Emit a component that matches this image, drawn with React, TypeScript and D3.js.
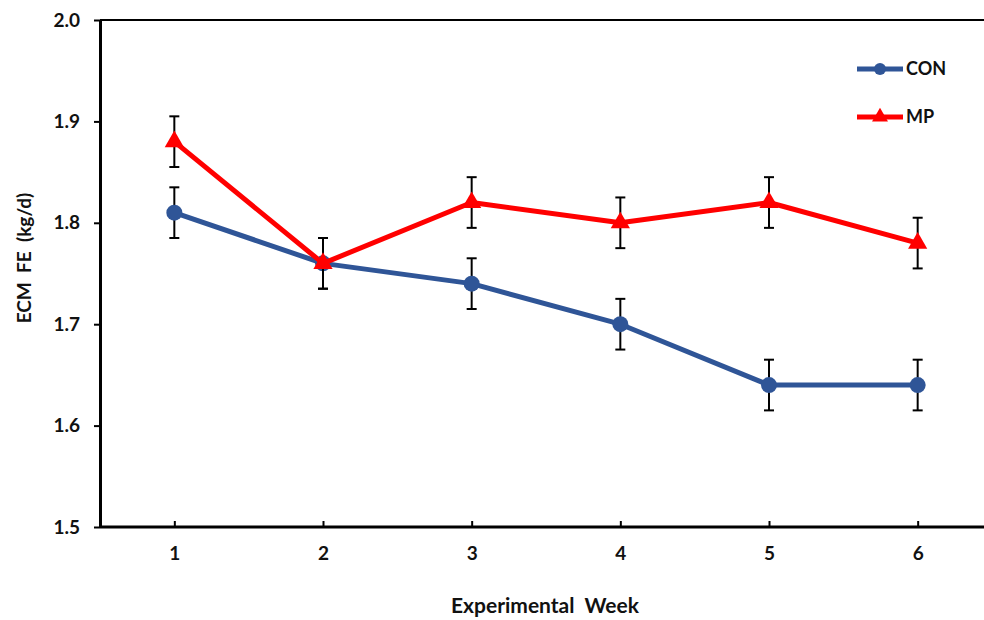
import React, { useEffect, useRef } from "react";
import * as d3 from "d3";

const weeks = ["1", "2", "3", "4", "5", "6"];
const conValues = [1.81, 1.76, 1.74, 1.7, 1.64, 1.64];
const conErrors = [0.025, 0.025, 0.025, 0.025, 0.025, 0.025];
const mpValues = [1.88, 1.76, 1.82, 1.8, 1.82, 1.78];
const mpErrors = [0.025, 0.025, 0.025, 0.025, 0.025, 0.025];
const yTicks = [1.5, 1.6, 1.7, 1.8, 1.9, 2.0];
const seriesNames = ["CON", "MP"];

const App = () => {
    const svgRef = useRef(null);
    const width = 984;
    const height = 620;

    useEffect(() => {
        const svg = d3.select(svgRef.current);
        svg.selectAll("*").remove();

        const font = "Lato, 'Open Sans', sans-serif";
        const left = 100, right = 992, top = 20, bottom = 527;

        const x = d3.scalePoint().domain(weeks).range([left, right]).padding(0.5);
        const y = d3.scaleLinear().domain([1.5, 2.0]).range([bottom, top]);

        const color = d3.scaleOrdinal().domain(seriesNames).range(["#2f5597", "#ff0000"]);

        // top border line
        svg.append("line")
            .attr("x1", left).attr("x2", width)
            .attr("y1", top).attr("y2", top)
            .attr("stroke", "#000").attr("stroke-width", 2);

        // y axis
        const yAxis = svg.append("g")
            .attr("transform", `translate(${left},0)`)
            .call(d3.axisLeft(y).tickValues(yTicks).tickSize(6).tickFormat(d3.format(".1f")).tickSizeOuter(0));
        yAxis.select(".domain").attr("stroke", "#000").attr("stroke-width", 3);
        yAxis.selectAll(".tick line").attr("stroke-width", 2);
        yAxis.selectAll(".tick text")
            .attr("x", -20)
            .attr("font-family", font).attr("font-weight", "bold")
            .attr("font-size", 19).attr("fill", "#111");

        // x axis
        const xAxis = svg.append("g")
            .attr("transform", `translate(0,${bottom})`)
            .call(d3.axisBottom(x).tickSize(-6).tickSizeOuter(0));
        xAxis.select(".domain").attr("d", `M${left},0H${width}`).attr("stroke", "#000").attr("stroke-width", 3);
        xAxis.selectAll(".tick line").attr("stroke-width", 2);
        xAxis.selectAll(".tick text")
            .attr("y", 20)
            .attr("font-family", font).attr("font-weight", "bold")
            .attr("font-size", 19).attr("fill", "#111");

        // axis titles
        svg.append("text")
            .attr("transform", `translate(31,258) rotate(-90)`)
            .attr("text-anchor", "middle")
            .attr("font-family", font).attr("font-weight", "bold")
            .attr("font-size", 19).attr("fill", "#111")
            .attr("xml:space", "preserve")
            .text("ECM  FE  (kg/d)");

        svg.append("text")
            .attr("x", 545).attr("y", 613)
            .attr("text-anchor", "middle")
            .attr("font-family", font).attr("font-weight", "bold")
            .attr("font-size", 21).attr("fill", "#111")
            .attr("xml:space", "preserve")
            .text("Experimental  Week");

        const series = [
            { name: "CON", values: conValues, errors: conErrors },
            { name: "MP", values: mpValues, errors: mpErrors },
        ];

        const line = d3.line()
            .x((d) => x(d.week))
            .y((d) => y(d.value));

        const triangle = d3.symbol().type(d3.symbolTriangle).size(160);

        series.forEach((s) => {
            const pts = weeks.map((w, i) => ({ week: w, value: s.values[i], err: s.errors[i] }));
            const g = svg.append("g");

            // error bars
            const eb = g.selectAll(".eb").data(pts).enter().append("g");
            eb.append("line")
                .attr("x1", (d) => x(d.week)).attr("x2", (d) => x(d.week))
                .attr("y1", (d) => y(d.value + d.err)).attr("y2", (d) => y(d.value - d.err))
                .attr("stroke", "#000").attr("stroke-width", 2);
            [1, -1].forEach((sgn) => {
                eb.append("line")
                    .attr("x1", (d) => x(d.week) - 5).attr("x2", (d) => x(d.week) + 5)
                    .attr("y1", (d) => y(d.value + sgn * d.err)).attr("y2", (d) => y(d.value + sgn * d.err))
                    .attr("stroke", "#000").attr("stroke-width", 2);
            });

            g.append("path")
                .datum(pts)
                .attr("fill", "none")
                .attr("stroke", color(s.name))
                .attr("stroke-width", 5)
                .attr("stroke-linejoin", "round")
                .attr("d", line);

            if (s.name === "CON") {
                g.selectAll(".m").data(pts).enter().append("circle")
                    .attr("cx", (d) => x(d.week)).attr("cy", (d) => y(d.value))
                    .attr("r", 8).attr("fill", color(s.name));
            } else {
                g.selectAll(".m").data(pts).enter().append("path")
                    .attr("d", triangle)
                    .attr("transform", (d) => `translate(${x(d.week)},${y(d.value)})`)
                    .attr("fill", color(s.name));
            }
        });

        // legend
        const legend = svg.append("g");
        seriesNames.forEach((name, i) => {
            const ly = 69 + i * 48;
            legend.append("line")
                .attr("x1", 857).attr("x2", 903)
                .attr("y1", ly).attr("y2", ly)
                .attr("stroke", color(name)).attr("stroke-width", 5);
            if (name === "CON") {
                legend.append("circle").attr("cx", 880).attr("cy", ly).attr("r", 6).attr("fill", color(name));
            } else {
                legend.append("path")
                    .attr("d", d3.symbol().type(d3.symbolTriangle).size(110))
                    .attr("transform", `translate(880,${ly})`)
                    .attr("fill", color(name));
            }
            legend.append("text")
                .attr("x", 906).attr("y", ly)
                .attr("dy", "0.35em")
                .attr("font-family", font).attr("font-weight", "bold")
                .attr("font-size", 18).attr("fill", "#111")
                .text(name);
        });
    }, []);

    return <svg ref={svgRef} width={width} height={height} style={{ position: "absolute", left: 0, top: 0 }} />;
};

export default App;
